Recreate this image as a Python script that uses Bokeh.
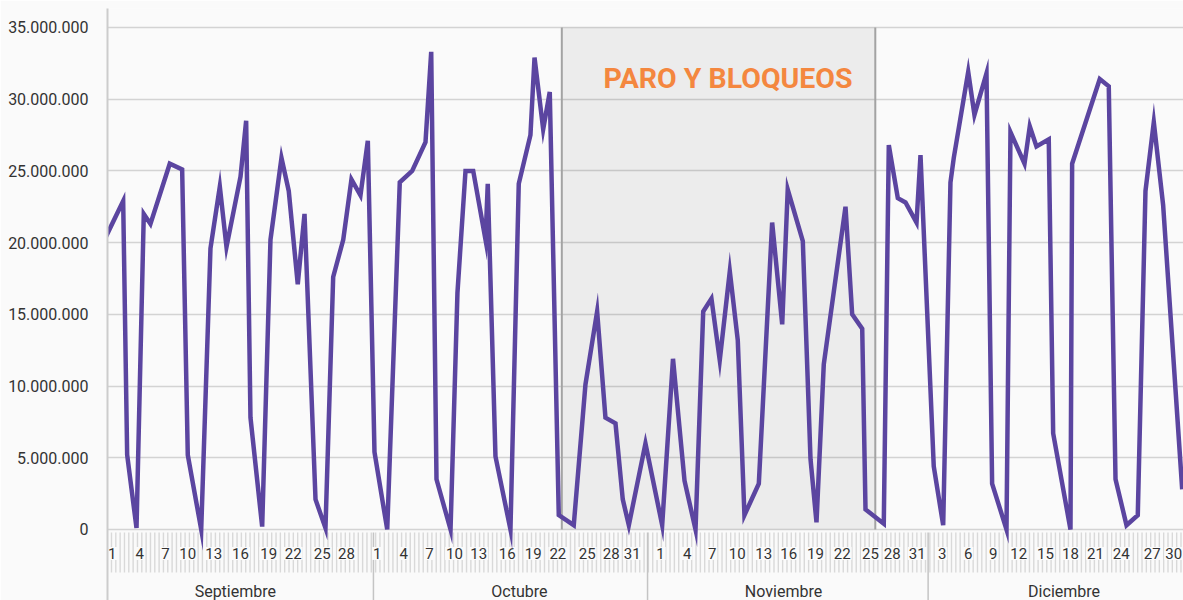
import numpy as np
from bokeh.plotting import figure
from bokeh.models import Range1d, FixedTicker
from bokeh.core.properties import value
from bokeh.embed import file_html
from bokeh.resources import INLINE

# ---------------- data ----------------
# x position in "day units" along the axis (Sept 1 label = 0)
dias = [-0.89, 1.35, 1.81, 2.89, 3.73, 4.50, 6.73, 8.16, 8.81, 10.36,
        11.43, 12.51, 13.28, 14.90, 15.55, 16.05, 17.40, 18.36, 19.63, 20.47,
        21.51, 22.29, 23.56, 24.71, 25.60, 26.76, 27.71, 28.75, 29.60, 30.37,
        31.84, 33.29, 34.72, 36.26, 36.92, 37.53, 39.15, 39.95, 40.88, 41.77,
        43.19, 43.45, 44.34, 46.07, 47.03, 48.38, 48.85, 49.85, 50.61, 51.65,
        53.38, 54.73, 56.08, 57.04, 58.20, 59.04, 59.74, 61.66, 63.59, 64.84,
        66.17, 67.44, 68.33, 69.28, 70.24, 71.40, 72.32, 73.09, 74.75, 76.29,
        77.45, 78.09, 79.83, 80.72, 81.41, 82.25, 84.76, 85.53, 86.69, 87.07,
        89.18, 89.76, 90.80, 91.69, 92.96, 93.42, 94.95, 96.04, 96.88, 97.26,
        98.93, 99.65, 101.04, 101.69, 103.35, 103.81, 105.43, 106.04, 106.81, 108.23,
        108.74, 110.74, 110.93, 114.12, 115.16, 115.94, 117.21, 118.51, 119.40, 120.36,
        121.44, 123.64]

valores = [20100000, 22900000, 5200000, 100000, 22000000, 21300000, 25500000, 25100000, 5200000, 0,
           19600000, 23900000, 19700000, 24600000, 28500000, 7800000, 200000, 20200000, 25900000, 23600000,
           17100000, 22000000, 2100000, 100000, 17600000, 20200000, 24400000, 23300000, 27100000, 5400000,
           0, 24200000, 25000000, 27000000, 33300000, 3500000, 0, 16500000, 25000000, 25000000,
           20200000, 24100000, 5100000, 0, 24100000, 27500000, 32900000, 27900000, 30500000, 1000000,
           300000, 10100000, 15200000, 7800000, 7400000, 2100000, 300000, 6000000, 300000, 11900000,
           3400000, 0, 15200000, 16100000, 11800000, 18000000, 13200000, 1000000, 3200000, 21400000,
           14300000, 23700000, 20100000, 4900000, 500000, 11500000, 22500000, 15000000, 14000000, 1400000,
           400000, 26800000, 23100000, 22800000, 21400000, 26100000, 4400000, 300000, 24200000, 25900000,
           31900000, 28900000, 31800000, 3200000, 0, 27700000, 25500000, 28100000, 26700000, 27200000,
           6700000, 0, 25500000, 31400000, 30900000, 3500000, 300000, 1000000, 23600000, 28400000,
           22600000, 2800000]

y_ticks = [0, 5000000, 10000000, 15000000, 20000000, 25000000, 30000000, 35000000]
y_labels = ["0", "5.000.000", "10.000.000", "15.000.000", "20.000.000",
            "25.000.000", "30.000.000", "35.000.000"]

dia_etiquetas = ["1", "4", "7", "10", "13", "16", "19", "22", "25", "28",
                 "1", "4", "7", "10", "13", "16", "19", "22", "25", "28", "31",
                 "1", "4", "7", "10", "13", "16", "19", "22", "25", "28", "31",
                 "3", "6", "9", "12", "15", "18", "21", "24", "27", "30"]
meses = ["Septiembre", "Octubre", "Noviembre", "Diciembre"]
titulo = "PARO Y BLOQUEOS"

# ---------------- layout constants ----------------
dia_pos = [0.08, 3.27, 6.24, 8.81, 11.81, 14.90, 18.16, 20.98, 24.33, 27.14,
           30.68, 33.75, 36.72, 39.61, 42.41, 45.69, 48.70, 51.54, 54.93, 57.70, 60.13,
           63.39, 66.48, 69.36, 72.25, 75.32, 78.21, 81.29, 84.38, 87.64, 90.15, 93.04,
           95.92, 98.92, 101.81, 104.77, 107.85, 110.74, 113.63, 116.59, 120.17, 122.67]
mes_centro = [14.3, 47.1, 77.6, 110.0]
mes_limites = [30.25, 61.9, 94.3]
paro_inicio, paro_fin = 52.0, 88.2
titulo_x, titulo_y = 71.2, 31440000

BG = "#fafafa"
FONT = "Roboto"

p = figure(width=1183, height=600, output_backend="svg", toolbar_location=None,
           x_range=Range1d(-0.46, 123.79), y_range=Range1d(-4950000, 36320000),
           x_axis_location=None,
           min_border_left=107, min_border_right=0, min_border_top=8, min_border_bottom=0,
           background_fill_color=BG, border_fill_color=BG, outline_line_color=None)

p.xgrid.visible = False
p.ygrid.ticker = FixedTicker(ticks=y_ticks)
p.ygrid.grid_line_color = "#d3d3d3"
p.ygrid.grid_line_width = 1.6

yax = p.yaxis[0]
yax.ticker = FixedTicker(ticks=y_ticks)
yax.major_label_overrides = dict(zip(y_ticks, y_labels))
yax.axis_line_color = "#cccccc"
yax.axis_line_width = 2
yax.major_tick_line_color = None
yax.minor_tick_line_color = None
yax.major_label_text_font = FONT
yax.major_label_text_font_size = "16px"
yax.major_label_text_color = "#333333"
yax.major_label_standoff = 13

# shaded strike period
p.quad(left=[paro_inicio], right=[paro_fin], bottom=[y_ticks[0]], top=[y_ticks[-1]],
       fill_color="black", fill_alpha=0.055, line_color=None)
p.segment(x0=[paro_inicio, paro_fin], y0=[y_ticks[0]] * 2,
          x1=[paro_inicio, paro_fin], y1=[y_ticks[-1]] * 2,
          line_color="#a3a3a3", line_width=2)
p.text(x=[titulo_x], y=[titulo_y], text=[titulo],
       text_font=value(FONT), text_font_size="28.5px", text_font_style="bold",
       text_color="#f4873f", text_align="center", text_baseline="middle")

# category-style axis below zero
xs = np.arange(-0.5, 124.5, 0.5)
p.segment(x0=xs, y0=-210000, x1=xs, y1=-3000000, line_color="#d9d9d9", line_width=1.4)
p.segment(x0=mes_limites, y0=-210000, x1=mes_limites, y1=-4950000,
          line_color="#c4c4c4", line_width=1.5)
p.text(x=dia_pos, y=-1670000, text=dia_etiquetas, text_font=value(FONT),
       text_font_size="15px", text_color="#333333", text_align="center",
       text_baseline="middle", background_fill_color=BG, padding=1)
p.text(x=mes_centro, y=-4300000, text=meses, text_font=value(FONT),
       text_font_size="16px", text_color="#333333", text_align="center",
       text_baseline="middle")

# main series
p.line(dias, valores, line_color="#5b45a0", line_width=4.5, line_join="miter")

open("out.html", "w").write(file_html(p, INLINE))
